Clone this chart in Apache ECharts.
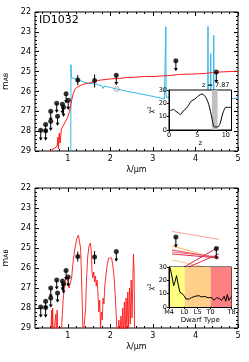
<!DOCTYPE html>
<html><head><meta charset="utf-8">
<script src="https://cdn.jsdelivr.net/npm/echarts@6/dist/echarts.min.js"></script>
<style>html,body{margin:0;padding:0;background:#fff}#c{width:249px;height:362px}</style>
</head><body><div id="c"></div>
<script>
// ---------- DATA ----------
const objName = 'ID1032';
const zBest = 'z = 7.87';
// photometry: [wavelength, mag, errTopMag, errBottomMag, isUpperLimit]
const photX   = [0.365,0.48,0.48,0.60,0.60,0.74,0.76,0.875,0.90,0.96,1.01,1.235,1.63,2.14,3.54,4.49];
const photMag = [27.95,27.98,27.66,27.50,27.00,26.60,27.25,26.65,26.80,26.12,26.45,25.43,25.45,25.18,24.45,25.02];
const photTop = [27.95,27.98,27.66,27.50,27.00,26.60,27.25,26.65,26.80,26.12,26.45,25.18,25.15,25.18,24.45,25.02];
const photBot = [28.45,28.45,28.05,27.95,27.45,27.05,27.70,27.10,27.25,26.57,26.90,25.68,25.80,25.65,24.95,25.55];
const photLim = [1,1,1,1,1,1,1,1,1,1,1,0,0,1,1,1];
// model photometry (hollow grey)
const modelPhotX = [2.15];
const modelPhotMag = [25.88];
// high-z galaxy template (blue)
const galX = [0.23,1.070,1.075,1.085,1.12,1.20,1.28,1.35,1.40,1.50,1.60,1.70,1.80,1.83,1.86,2.00,2.15,2.40,2.70,3.00,3.27,3.300,3.305,3.310,3.40,4.290,4.295,4.300,4.355,4.360,4.365,4.425,4.430,4.435,4.60,5.00];
const galMag = [31,31,24.65,25.30,25.33,25.38,25.45,25.50,25.55,25.60,25.62,25.65,25.72,25.85,25.72,25.80,25.88,26.00,26.12,26.25,26.38,26.35,22.75,26.30,26.28,26.30,22.72,26.30,26.30,24.10,26.30,26.32,23.17,26.32,26.34,26.35];
// low-z galaxy template (red, top panel)
const lowX = [0.58,0.62,0.70,0.75,0.77,0.78,0.80,0.82,0.85,0.90,0.95,1.00,1.04,1.07,1.10,1.13,1.17,1.22,1.30,1.40,1.50,1.60,1.70,1.80,1.90,2.00,2.20,2.40,2.60,2.80,3.00,3.20,3.40,3.60,3.80,4.00,4.20,4.40,4.60,4.80,5.00];
const lowMag = [29.0,28.95,28.85,28.75,28.3,28.9,28.1,28.6,27.9,27.7,27.5,27.3,27.0,26.7,26.35,26.1,25.9,25.78,25.7,25.62,25.58,25.52,25.45,25.42,25.4,25.37,25.35,25.3,25.28,25.25,25.25,25.22,25.2,25.15,25.13,25.12,25.1,25.05,25.02,25.0,24.98];
// brown dwarf spectrum (red, bottom panel)
const bdX = [0.60,0.62,0.63,0.645,0.66,0.70,0.72,0.735,0.75,0.77,0.84,0.87,0.89,0.92,0.95,0.98,1.00,1.03,1.06,1.09,1.13,1.17,1.21,1.25,1.27,1.30,1.32,1.34,1.36,1.40,1.42,1.44,1.47,1.50,1.53,1.555,1.57,1.59,1.61,1.63,1.65,1.67,1.69,1.71,1.73,1.75,1.77,1.79,1.81,1.83,1.85,1.87,1.90,1.93,1.96,2.00,2.03,2.06,2.09,2.12,2.15,2.17,2.20,2.22,2.25,2.27,2.29,2.31,2.33,2.35,2.37,2.39,2.41,2.43,2.45,2.47,2.49,2.51,2.53,2.545,2.56,2.57];
const bdMag = [29.5,28.1,29.5,28.0,29.5,29.5,28.3,29.5,28.1,29.5,29.5,28.4,27.6,27.0,26.6,26.45,26.6,27.0,27.1,26.5,25.6,25.0,24.55,24.35,24.4,25.0,26.2,27.8,29.5,29.5,28.0,26.6,25.4,24.9,24.75,25.2,26.2,26.5,26.2,26.7,26.4,26.9,26.6,27.3,28.2,27.6,29.0,28.2,28.6,27.5,27.8,26.9,26.3,25.8,25.5,25.4,25.5,25.9,26.5,27.5,28.9,29.5,28.6,29.5,28.4,29.5,28.0,29.5,27.7,29.5,27.5,29.2,27.2,29.0,27.0,28.8,26.6,28.5,26.5,25.3,26.3,29.5];
// dwarf template colours in F356W/F444W (bottom panel lines)
const bdLineX = [3.45,4.55];
const bdLineM1 = [24.17,24.90,25.10,25.20,25.30,25.60,26.30,26.30];
const bdLineM2 = [24.57,25.55,25.50,25.45,25.50,26.10,24.95,25.30];
const bdLineCol = ['#f4a0a0','#ffb060','#e8405a','#f06878','#e03050','#ffc890','#d0204a','#d83050'];
// photo-z chi2 (top inset)
const zGrid = [0,0.4,0.8,1.2,1.6,2.0,2.5,3.0,3.5,4.0,4.5,5.0,5.5,5.8,6.2,6.6,7.0,7.3,7.6,7.9,8.2,8.6,9.0,9.3,9.6,10.0,10.5,11];
const zChi  = [14.5,14.8,15.5,14,13,11.5,14.3,16,19,22,23,25,26.5,27,26,23.5,19,14,8,2.5,2.3,2.3,5,10,14,17,17,17];
const zBand = [7.55,8.55];
// dwarf-type chi2 (bottom inset); type index 0=M4 ... 24=T8
const dwIdx = [0,0.6,1.3,1.8,2.3,2.9,3.5,4.2,5.0,5.8,6.5,7.2,7.8,8.6,9.9,10.5,11.5,12.5,13.5,15,15.7,16.5,17.3,18.3,19.3,20.2,21.2,21.8,22.4,23,23.6,24];
const dwChi = [32,28,21,16,19,23.5,17,11,10,8.5,6,7.5,6,7,8,7.5,8.5,7.5,8,7,5.5,7,5,7,6.3,5,8,4.3,9.3,5,7,8];
const dwTickPos = [0,6,11,16,24];
const dwTickLab = ['M4','L0','L5','T0','T8'];
const dwBands = [[0,6],[6,16],[16,24]];
const dwBandCol = ['#ffff80','#ffd08a','#ff8080'];
const xMajor = [1,2,3,4,5];
const xMinor = [0.4,0.6,0.8,1.2,1.4,1.6,1.8,2.2,2.4,2.6,2.8,3.2,3.4,3.6,3.8,4.2,4.4,4.6,4.8];

// ---------- CHART ----------
const FONT = 'DejaVu Sans';
const chart = echarts.init(document.getElementById('c'), null, {renderer:'canvas'});
const BLUE = '#35b6ea', RED = '#ff1a1a';
const XMIN = 0.23, XMAX = 5;

function mainX(grid){
  const base = {type:'value', gridIndex:grid, min:XMIN, max:XMAX, scale:true, axisLine:{show:false}, splitLine:{show:false}};
  return [
    Object.assign({}, base, {position:'bottom',
     axisTick:{show:true, inside:true, length:4, customValues:xMajor, lineStyle:{color:'#000'}},
     axisLabel:{show:true, customValues:xMajor, fontFamily:FONT, fontSize:8, color:'#000', margin:4},
     name:'λ/μm', nameLocation:'middle', nameGap:15, nameTextStyle:{fontFamily:FONT, fontSize:8, color:'#000'}}),
    Object.assign({}, base, {position:'bottom', axisLabel:{show:false},
     axisTick:{show:true, inside:true, length:2, customValues:xMinor, lineStyle:{color:'#000'}}}),
    Object.assign({}, base, {position:'top', axisLabel:{show:false},
     axisTick:{show:true, inside:true, length:4, customValues:xMajor, lineStyle:{color:'#000'}}}),
    Object.assign({}, base, {position:'top', axisLabel:{show:false},
     axisTick:{show:true, inside:true, length:2, customValues:xMinor, lineStyle:{color:'#000'}}})
  ];
}
function mainY(grid){
  return [
    {type:'value', gridIndex:grid, inverse:true, min:22, max:29, interval:1, position:'left',
     axisLine:{show:false}, splitLine:{show:false},
     axisTick:{show:true, inside:true, length:4, lineStyle:{color:'#000'}},
     minorTick:{show:true, splitNumber:5, length:2, lineStyle:{color:'#000'}},
     axisLabel:{fontFamily:FONT, fontSize:8, color:'#000', margin:4},
     name:'m{s|AB}', nameLocation:'middle', nameGap:19, nameRotate:90,
     nameTextStyle:{fontFamily:FONT, fontSize:9, color:'#000', rich:{s:{fontFamily:FONT, fontSize:6, color:'#000', verticalAlign:'bottom', padding:[3,0,0,0]}}}},
    {type:'value', gridIndex:grid, inverse:true, min:22, max:29, interval:1, position:'right',
     axisLine:{show:false}, splitLine:{show:false}, axisLabel:{show:false},
     axisTick:{show:true, inside:true, length:4, lineStyle:{color:'#000'}},
     minorTick:{show:true, splitNumber:5, length:2, lineStyle:{color:'#000'}}}
  ];
}
function insetY(grid){
  return [
    {type:'value', gridIndex:grid, min:0, max:30, interval:10, position:'left', z:13,
     axisLine:{show:true, lineStyle:{color:'#000', width:1}}, splitLine:{show:false},
     axisTick:{show:true, length:2, lineStyle:{color:'#000'}},
     axisLabel:{fontFamily:FONT, fontSize:6.5, color:'#000', margin:2},
     name:'χ{p|2}', nameLocation:'middle', nameGap:13, nameRotate:90,
     nameTextStyle:{fontFamily:FONT, fontSize:7, color:'#000', rich:{p:{fontFamily:FONT, fontSize:5, color:'#000', verticalAlign:'top', padding:[0,0,3,0]}}}},
    {type:'value', gridIndex:grid, min:0, max:30, position:'right', z:13,
     axisLine:{show:true, lineStyle:{color:'#000', width:1}}, splitLine:{show:false},
     axisTick:{show:false}, axisLabel:{show:false}}
  ];
}

const xAxes = [].concat(mainX(0), mainX(2), [
  {type:'value', gridIndex:1, min:0, max:11, interval:5, position:'bottom', z:13,
   axisLine:{show:true, lineStyle:{color:'#000'}}, splitLine:{show:false},
   axisTick:{show:true, length:2, lineStyle:{color:'#000'}},
   axisLabel:{fontFamily:FONT, fontSize:6.5, color:'#000', margin:2, showMaxLabel:false},
   name:'z', nameLocation:'middle', nameGap:9, nameTextStyle:{fontFamily:FONT, fontSize:7, color:'#000'}},
  {type:'value', gridIndex:1, min:0, max:11, position:'top', z:13,
   axisLine:{show:true, lineStyle:{color:'#000'}}, splitLine:{show:false}, axisTick:{show:false}, axisLabel:{show:false}},
  {type:'value', gridIndex:3, min:0, max:24, position:'bottom', z:13,
   axisLine:{show:true, lineStyle:{color:'#000'}}, splitLine:{show:false},
   axisTick:{show:true, length:2, customValues:dwTickPos, lineStyle:{color:'#000'}},
   axisLabel:{customValues:dwTickPos, fontFamily:FONT, fontSize:6.5, color:'#000', margin:2,
     formatter:function(v){const i=dwTickPos.indexOf(Math.round(v)); return i>=0?dwTickLab[i]:'';}},
   name:'Dwarf Type', nameLocation:'middle', nameGap:9, nameTextStyle:{fontFamily:FONT, fontSize:7, color:'#000'}},
  {type:'value', gridIndex:3, min:0, max:24, position:'top', z:13,
   axisLine:{show:true, lineStyle:{color:'#000'}}, splitLine:{show:false}, axisTick:{show:false}, axisLabel:{show:false}}
]);
const yAxes = [].concat(mainY(0), mainY(2), insetY(1), insetY(3));

function zip(a,b){return a.map((v,i)=>[v,b[i]]);}
const photData = photX.map((x,i)=>[x,photMag[i],photTop[i],photBot[i],photLim[i]]);

function errRender(params, api){
  const x=api.value(0), top=api.value(2), bot=api.value(3), lim=api.value(4);
  const p1=api.coord([x,top]), p2=api.coord([x,bot]);
  const ch=[{type:'line', shape:{x1:p1[0],y1:p1[1],x2:p2[0],y2:p2[1]}, style:{stroke:'#000', lineWidth:1}}];
  if(lim){
    ch.push({type:'polygon', shape:{points:[[p2[0]-2,p2[1]-2.5],[p2[0]+2,p2[1]-2.5],[p2[0],p2[1]+0.5]]}, style:{fill:'#000'}});
  }
  return {type:'group', children:ch};
}
function photSeries(xi, yi){
  return [
    {type:'custom', xAxisIndex:xi, yAxisIndex:yi, data:photData, renderItem:errRender, z:5, silent:true, clip:true, encode:{x:0,y:1}},
    {type:'scatter', xAxisIndex:xi, yAxisIndex:yi, data:photData.map(d=>[d[0],d[1]]), symbol:'circle', symbolSize:5,
     itemStyle:{color:'#000'}, z:6, silent:true}
  ];
}

const series = [
  {type:'line', xAxisIndex:0, yAxisIndex:0, data:zip(galX,galMag), showSymbol:false, lineStyle:{color:BLUE, width:1}, z:3, clip:true},
  {type:'line', xAxisIndex:0, yAxisIndex:0, data:zip(lowX,lowMag), showSymbol:false, lineStyle:{color:RED, width:1}, z:4, clip:true},
  {type:'scatter', xAxisIndex:0, yAxisIndex:0, data:zip(modelPhotX,modelPhotMag), symbol:'circle', symbolSize:5,
   itemStyle:{color:'rgba(0,0,0,0)', borderColor:'#999', borderWidth:1}, z:4},
  ...photSeries(0,0),
  {type:'custom', xAxisIndex:8, yAxisIndex:4, data:[zBand], z:11, silent:true,
   renderItem:function(p,api){const a=api.coord([api.value(0),30]), b=api.coord([api.value(1),0]);
     return {type:'rect', shape:{x:a[0],y:a[1],width:b[0]-a[0],height:b[1]-a[1]}, style:{fill:'#c0c0c0'}};}},
  {type:'line', xAxisIndex:8, yAxisIndex:4, data:zip(zGrid,zChi), showSymbol:false, smooth:0.3, lineStyle:{color:'#000', width:1}, z:12},
  {type:'line', xAxisIndex:4, yAxisIndex:2, data:zip(bdX,bdMag), showSymbol:false, lineStyle:{color:RED, width:1, opacity:0.9}, z:3, clip:true},
  ...bdLineM1.map((m,i)=>({type:'line', xAxisIndex:4, yAxisIndex:2, data:[[bdLineX[0],m],[bdLineX[1],bdLineM2[i]]],
     showSymbol:false, lineStyle:{color:bdLineCol[i], width:1}, z:3})),
  ...photSeries(4,2),
  {type:'custom', xAxisIndex:10, yAxisIndex:6, data:dwBands.map((b,i)=>[b[0],b[1],i]), z:11, silent:true,
   renderItem:function(p,api){const a=api.coord([api.value(0),30]), b=api.coord([api.value(1),0]);
     return {type:'rect', shape:{x:a[0],y:a[1],width:b[0]-a[0],height:b[1]-a[1]}, style:{fill:dwBandCol[api.value(2)]}};}},
  {type:'line', xAxisIndex:10, yAxisIndex:6, data:zip(dwIdx,dwChi), showSymbol:false, lineStyle:{color:'#000', width:1}, z:12, clip:true}
];

chart.setOption({
  animation:false,
  backgroundColor:'#fff',
  grid:[
    {left:35, top:12, width:203, height:139, show:true, borderColor:'#000', borderWidth:1, backgroundColor:'#fff', containLabel:false, outerBoundsMode:'none'},
    {left:169, top:90, width:62.5, height:40, show:true, borderColor:'#000', borderWidth:1, backgroundColor:'#fff', z:10, containLabel:false, outerBoundsMode:'none'},
    {left:35, top:188, width:203, height:140, show:true, borderColor:'#000', borderWidth:1, backgroundColor:'#fff', containLabel:false, outerBoundsMode:'none'},
    {left:169, top:267, width:62.5, height:40, show:true, borderColor:'#000', borderWidth:1, backgroundColor:'#fff', z:10, containLabel:false, outerBoundsMode:'none'}
  ],
  xAxis:xAxes, yAxis:yAxes, series:series,
  graphic:[
    {type:'text', left:39, top:15, z:20, style:{text:objName, fontFamily:FONT, fontSize:11, fill:'#000'}},
    {type:'text', left:202, top:82, z:20, style:{text:zBest, fontFamily:FONT, fontSize:6.5, fill:'#000'}}
  ]
});
</script></body></html>
